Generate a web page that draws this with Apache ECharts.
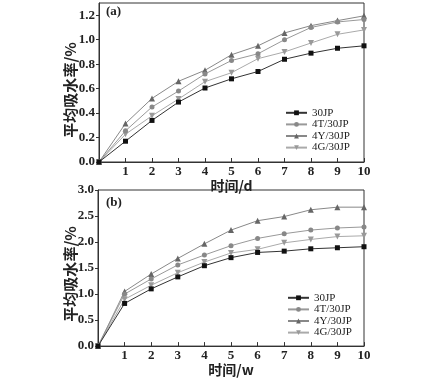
<!DOCTYPE html>
<html><head><meta charset="utf-8">
<script src="https://cdn.jsdelivr.net/npm/echarts@6/dist/echarts.min.js"></script>
<style>html,body{margin:0;padding:0;background:#fff}#c{width:432px;height:378px}</style>
</head><body><div id="c"></div>
<script>
const names = ['30JP','4T/30JP','4Y/30JP','4G/30JP'];
const times = [0,1,2,3,4,5,6,7,8,9,10];
const xTicks = [1,2,3,4,5,6,7,8,9,10];
const yTicksA = [0,0.2,0.4,0.6,0.8,1.0,1.2];
const yTicksB = [0,0.5,1.0,1.5,2.0,2.5,3.0];
// (a) days
const a30JP = [0,0.17,0.34,0.49,0.605,0.68,0.74,0.84,0.89,0.93,0.95];
const a4T   = [0,0.255,0.45,0.58,0.72,0.83,0.885,1.0,1.10,1.145,1.165];
const a4Y   = [0,0.315,0.52,0.66,0.75,0.877,0.95,1.055,1.115,1.156,1.195];
const a4G   = [0,0.227,0.378,0.515,0.657,0.73,0.845,0.90,0.973,1.044,1.08];
// (b) weeks
const b30JP = [0,0.82,1.10,1.33,1.545,1.70,1.80,1.825,1.87,1.89,1.91];
const b4T   = [0,1.00,1.29,1.56,1.75,1.93,2.07,2.16,2.23,2.27,2.29];
const b4Y   = [0,1.05,1.385,1.685,1.965,2.23,2.41,2.49,2.62,2.67,2.67];
const b4G   = [0,0.90,1.17,1.41,1.615,1.79,1.86,1.985,2.05,2.105,2.12];

const styles = [
  {symbol:'rect', size:5, color:'#111', line:'#333', rot:0},
  {symbol:'circle', size:5, color:'#888', line:'#999', rot:0},
  {symbol:'triangle', size:6, color:'#666', line:'#888', rot:0},
  {symbol:'triangle', size:6, color:'#999', line:'#aaa', rot:180}
];
const tickFont = {fontFamily:'Liberation Serif', fontWeight:'bold', fontSize:13, color:'#222'};
const cjk = {fontFamily:'Noto Sans CJK SC', fontWeight:'bold', fontSize:14, color:'#222'};

function mk(vals, i, gi){
  const s = styles[i];
  return {
    name: names[i], type:'line', xAxisIndex:gi, yAxisIndex:gi,
    data: times.map((t,k)=>[t, vals[k]]),
    symbol: s.symbol, symbolSize: s.size, symbolRotate: s.rot, showSymbol:true,
    itemStyle:{color:s.color}, lineStyle:{color:s.line, width:1},
    z: 5 - i
  };
}
function xAx(gi, name){
  return {type:'value', gridIndex:gi, min:0, max:10,
    name:name, nameLocation:'middle', nameGap:15, nameTextStyle:cjk,
    axisLine:{show:true, onZero:false, lineStyle:{color:'#333', width:1}},
    axisTick:{show:true, inside:true, length:4, customValues:xTicks, lineStyle:{color:'#333'}},
    axisLabel:Object.assign({margin:3, customValues:xTicks}, tickFont),
    splitLine:{show:false}};
}
function yAx(gi, max, ticks){
  return {type:'value', gridIndex:gi, min:0, max:max,
    axisLine:{show:true, lineStyle:{color:'#333', width:1}},
    axisTick:{show:true, inside:false, length:3, customValues:ticks, lineStyle:{color:'#333'}},
    axisLabel:Object.assign({margin:4, customValues:ticks, formatter:v=>v.toFixed(1)}, tickFont),
    splitLine:{show:false}};
}
function leg(left, top){
  return {orient:'vertical', left:left, top:top, padding:0, data:names, itemWidth:21, itemHeight:6, itemGap:0,
    textStyle:{fontFamily:'Liberation Serif', fontSize:11, color:'#222', lineHeight:11.6}};
}
const chart = echarts.init(document.getElementById('c'), null, {renderer:'canvas'});
chart.setOption({
  backgroundColor:'#fff', animation:false,
  grid:[
    {left:99, width:265, top:3, height:159, show:true, borderColor:'#333', borderWidth:1, backgroundColor:'transparent'},
    {left:98, width:266, top:190, height:158, show:true, borderColor:'#333', borderWidth:1, backgroundColor:'transparent'}
  ],
  xAxis:[xAx(0,'时间/d'), xAx(1,'时间/w')],
  yAxis:[yAx(0,1.3,yTicksA), yAx(1,3.0,yTicksB)],
  legend:[leg(285,107), leg(287,292)],
  graphic:[
    {type:'text', x:70, y:90, rotation:Math.PI/2, style:{text:'平均吸水率/%', align:'center', verticalAlign:'middle', font:'bold 15px "Noto Sans CJK SC"', fill:'#222'}},
    {type:'text', x:70, y:274, rotation:Math.PI/2, style:{text:'平均吸水率/%', align:'center', verticalAlign:'middle', font:'bold 15px "Noto Sans CJK SC"', fill:'#222'}},
    {type:'text', x:106, y:5, style:{text:'(a)', font:'bold 13px "Liberation Serif"', fill:'#222'}},
    {type:'text', x:106, y:196, style:{text:'(b)', font:'bold 13px "Liberation Serif"', fill:'#222'}}
  ],
  series:[
    mk(a30JP,0,0), mk(a4T,1,0), mk(a4Y,2,0), mk(a4G,3,0),
    mk(b30JP,0,1), mk(b4T,1,1), mk(b4Y,2,1), mk(b4G,3,1)
  ]
});
</script></body></html>
